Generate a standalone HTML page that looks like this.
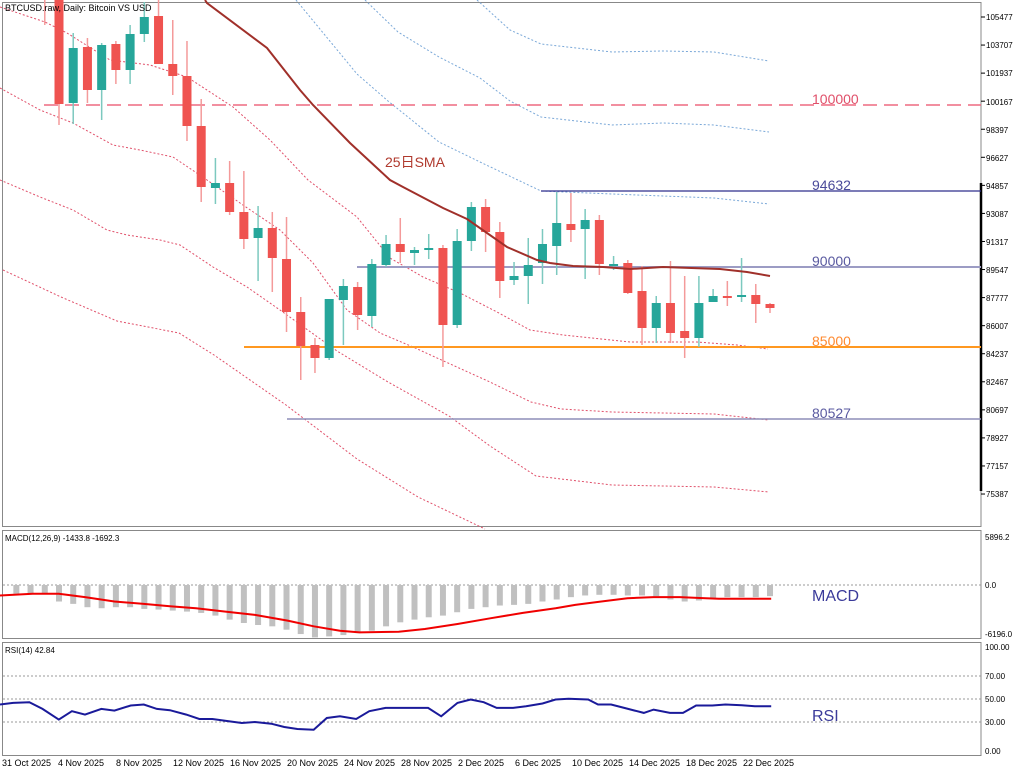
<!DOCTYPE html>
<html><head><meta charset="utf-8"><style>
html,body{margin:0;padding:0;background:#fff;}
svg{display:block;font-family:"Liberation Sans","Noto Sans CJK JP",sans-serif;}
.ax{font-size:8px;fill:#000;}
.dt{font-size:9px;fill:#000;}
.lbl{font-size:14px;}
</style></head><body>
<svg id="s" width="1024" height="773" viewBox="0 0 1024 773" xmlns="http://www.w3.org/2000/svg">
<rect width="1024" height="773" fill="#fff"/>
<!-- panels -->
<rect x="2.5" y="2.5" width="978.5" height="524" fill="none" stroke="#888" stroke-width="1"/>
<rect x="2.5" y="530.5" width="978.5" height="108" fill="none" stroke="#888" stroke-width="1"/>
<rect x="2.5" y="642.5" width="978.5" height="113" fill="none" stroke="#888" stroke-width="1"/>
<line x1="981" y1="183" x2="981" y2="491" stroke="#000" stroke-width="2.5"/>
<g id="bands" fill="none" stroke-width="1" stroke-dasharray="2,2">
<polyline stroke="#7aa8d8" points="296,0 357,74 388,101 439,142 480,162 541,191 612,194 663,196 714,198 769,204"/>
<polyline stroke="#7aa8d8" points="365,0 398,32 439,57 480,78 510,101 541,117 612,125 663,123 714,125 769,132"/>
<polyline stroke="#7aa8d8" points="477,0 510,30 541,44 612,52 663,51 714,52 769,61"/>
<polyline stroke="#e0506a" points="0,7 45,22 67,33 110,60 150,65 187,77 233,107 270,140 308,180 357,217 390,258 423,277 460,293 497,312 530,330 563,335 630,342 697,342 737,345 768,349"/>
<polyline stroke="#e0506a" points="0,88 40,110 73,123 113,145 140,150 173,157 207,180 240,203 280,230 313,263 347,310 380,333 413,347 459,368 490,382 531,402 561,409 612,412 714,414 769,420"/>
<polyline stroke="#e0506a" points="0,180 40,197 73,210 107,230 127,235 160,240 180,245 213,267 247,287 280,310 337,351 388,382 449,416 490,446 536,476 612,485 714,487 769,492"/>
<polyline stroke="#e0506a" points="3,270 61,297 117,321 179,333 214,355 286,405 357,459 418,497 485,529"/>
</g>
<!-- horizontal levels -->
<line x1="44" y1="105" x2="981" y2="105" stroke="#ee6a80" stroke-width="1.5" stroke-dasharray="14,7"/>
<line x1="541" y1="191" x2="981" y2="191" stroke="#2e2e8c" stroke-width="1.2"/>
<line x1="357" y1="267" x2="981" y2="267" stroke="#9c9cc4" stroke-width="2"/>
<line x1="244" y1="347" x2="981" y2="347" stroke="#ff9820" stroke-width="2"/>
<line x1="287" y1="419" x2="981" y2="419" stroke="#8e8eb8" stroke-width="1.5"/>
<g id="candles"></g>
<polyline fill="none" stroke="#a0302a" stroke-width="2" points="205,0 207,3 267,48 300,90 313,105 350,143 390,180 403,187 443,208 467,219 507,247 537,260 550,263 573,266 603,267 630,269 663,267 720,269 747,272 770,276"/>
<text x="385" y="167" class="lbl" fill="#b03a2e">25日SMA</text>
<text x="812" y="104" class="lbl" fill="#e0506a">100000</text>
<text x="812" y="190" class="lbl" fill="#4a4a9a">94632</text>
<text x="812" y="266" class="lbl" fill="#5a5aa0">90000</text>
<text x="812" y="346" class="lbl" fill="#ff8a30">85000</text>
<text x="812" y="418" class="lbl" fill="#5a5aa0">80527</text>
<text x="5" y="11" font-size="9" fill="#000">BTCUSD.raw, Daily:  Bitcoin VS USD</text>
<!-- price axis -->
<g class="ax" id="pax"></g>
<!-- MACD -->
<line x1="3" y1="585" x2="981" y2="585" stroke="#999" stroke-dasharray="2,2"/>
<g id="hist"></g>
<polyline fill="none" stroke="#f00000" stroke-width="2" id="sig"/>
<text x="5" y="541" font-size="8" fill="#000">MACD(12,26,9) -1433.8 -1692.3</text>
<text x="812" y="601" font-size="16" fill="#3a3a9a">MACD</text>
<text x="985" y="540" class="ax">5896.2</text>
<text x="985" y="588" class="ax">0.0</text>
<text x="985" y="637" class="ax">-6196.0</text>
<!-- RSI -->
<line x1="3" y1="676" x2="981" y2="676" stroke="#999" stroke-dasharray="2,2"/>
<line x1="3" y1="699" x2="981" y2="699" stroke="#999" stroke-dasharray="2,2"/>
<line x1="3" y1="722" x2="981" y2="722" stroke="#999" stroke-dasharray="2,2"/>
<polyline fill="none" stroke="#1a1a9a" stroke-width="2" id="rsi"/>
<text x="5" y="653" font-size="8" fill="#000">RSI(14) 42.84</text>
<text x="812" y="721" font-size="16" fill="#3a3a9a">RSI</text>
<text x="985" y="650" class="ax">100.00</text>
<text x="985" y="679" class="ax">70.00</text>
<text x="985" y="702" class="ax">50.00</text>
<text x="985" y="725" class="ax">30.00</text>
<text x="985" y="754" class="ax">0.00</text>
<!-- dates -->
<g class="dt">
<text x="2" y="766">31 Oct 2025</text>
<text x="58" y="766">4 Nov 2025</text>
<text x="116" y="766">8 Nov 2025</text>
<text x="173" y="766">12 Nov 2025</text>
<text x="230" y="766">16 Nov 2025</text>
<text x="287" y="766">20 Nov 2025</text>
<text x="344" y="766">24 Nov 2025</text>
<text x="401" y="766">28 Nov 2025</text>
<text x="458" y="766">2 Dec 2025</text>
<text x="515" y="766">6 Dec 2025</text>
<text x="572" y="766">10 Dec 2025</text>
<text x="629" y="766">14 Dec 2025</text>
<text x="686" y="766">18 Dec 2025</text>
<text x="743" y="766">22 Dec 2025</text>
</g>
<g class="ax">
<text x="986" y="20">105477</text><text x="986" y="48">103707</text><text x="986" y="76">101937</text>
<text x="986" y="105">100167</text><text x="986" y="133">98397</text><text x="986" y="161">96627</text>
<text x="986" y="189">94857</text><text x="986" y="217">93087</text><text x="986" y="245">91317</text>
<text x="986" y="273">89547</text><text x="986" y="301">87777</text><text x="986" y="329">86007</text>
<text x="986" y="357">84237</text><text x="986" y="385">82467</text><text x="986" y="413">80697</text>
<text x="986" y="441">78927</text><text x="986" y="469">77157</text><text x="986" y="497">75387</text>
</g>
</svg>
<script>
var NS="http://www.w3.org/2000/svg";
function el(p,t,a){var e=document.createElementNS(NS,t);for(var k in a)e.setAttribute(k,a[k]);p.appendChild(e);return e;}
var s=document.getElementById('s');
// axis ticks
for(var i=0;i<18;i++){var y=17+i*28.06;el(s,'line',{x1:981,y1:y,x2:985,y2:y,stroke:'#000'});}
var C=[
[-1,'r',0,0,0,25],
[0,'r',0,104,0,125],[1,'g',48,103,33,124],[2,'r',47,90,38,103],[3,'g',45,90,43,120],
[4,'r',44,70,41,84],[5,'g',34,70,25,84],[6,'g',17,34,2,42],[7,'r',16,64,0,64],
[8,'r',64,76,20,95],[9,'r',76,126,41,141],[10,'r',126,187,99,202],[11,'g',183,188,158,204],
[12,'r',183,212,161,215],[13,'r',212,239,171,249],[14,'g',228,238,206,281],[15,'r',228,258,212,292],
[16,'r',259,312,217,332],[17,'r',312,346,297,380],[18,'r',345,358,338,373],[19,'g',299,358,299,360],
[20,'g',286,300,279,345],[21,'r',287,315,282,330],[22,'g',264,316,259,327],[23,'g',244,265,235,267],
[24,'r',244,252,218,263],[25,'g',250,253,247,265],[26,'g',248,250,234,259],[27,'r',248,325,245,367],
[28,'g',241,325,229,328],[29,'g',207,241,202,251],[30,'r',207,232,199,252],[31,'r',232,281,222,298],
[32,'g',276,280,262,285],[33,'g',265,276,238,304],[34,'g',244,263,229,284],[35,'g',223,246,192,275],
[36,'r',224,230,193,242],[37,'g',220,229,209,279],[38,'r',220,264,215,275],[39,'g',264,265,256,270],
[40,'r',263,293,260,294],[41,'r',291,328,266,345],[42,'g',303,328,296,343],[43,'r',303,333,261,343],
[44,'r',331,338,276,358],[45,'g',303,338,276,347],[46,'g',296,302,289,302],[47,'r',296,297,281,306],
[48,'g',295,297,258,302],[49,'r',295,304,284,323],[50,'r',304,308,303,313]];
var g=document.getElementById('candles');
C.forEach(function(c){var x=59+c[0]*14.22;var col=c[1]=='r'?'#ef5350':'#26a69a';var wc=c[1]=='r'?'#f49a9a':'#7cc9bf';
el(g,'line',{x1:x,y1:c[4],x2:x,y2:c[5],stroke:wc,'stroke-width':1.5});
if(c[3]>c[2]){var h=Math.max(c[3]-c[2],2);el(g,'rect',{x:x-4.5,y:c[2],width:9,height:h,fill:col});}});
// histogram
var H=[205,205,205,228,235,245,248,245,245,250,252,255,258,262,270,282,292,298,302,312,325,335,332,328,322,315,302,290,282,275,270,260,250,245,240,238,235,228,222,215,210,208,208,210,210,212,222,228,225,218,215,215,215,212];
var hg=document.getElementById('hist');
H.forEach(function(v,k){var x=59+(k-3)*14.22;var yb=525+v/2.98;el(hg,'rect',{x:x-3,y:585,width:6,height:yb-585,fill:'#c0c0c0'});});
function pts(a){return a.map(function(p){return (p[0]/1.53).toFixed(1)+','+(525+p[1]/2.98).toFixed(1);}).join(' ');}
document.getElementById('sig').setAttribute('points',pts([[0,210],[50,205],[90,205],[130,215],[175,228],[220,235],[260,242],[300,248],[345,258],[390,268],[440,285],[480,302],[520,315],[550,320],[610,318],[650,310],[700,295],[750,278],[800,262],[850,248],[880,238],[920,228],[960,218],[1000,215],[1040,215],[1080,218],[1100,220],[1180,220]]));
document.getElementById('rsi').setAttribute('points',pts([[0,535],[20,530],[45,528],[65,548],[90,580],[110,555],[130,565],[155,548],[175,553],[200,538],[220,535],[240,548],[260,552],[285,565],[305,578],[325,578],[350,585],[370,590],[390,587],[415,592],[435,602],[455,608],[480,610],[500,575],[520,570],[545,578],[565,555],[590,545],[610,545],[655,545],[675,570],[700,530],[720,520],[740,528],[760,545],[785,545],[805,540],[830,532],[850,520],[870,518],[900,520],[915,535],[935,535],[955,545],[985,560],[1000,550],[1025,560],[1045,560],[1065,538],[1090,538],[1110,535],[1135,537],[1155,540],[1180,540]]));
</script>
</body></html>
